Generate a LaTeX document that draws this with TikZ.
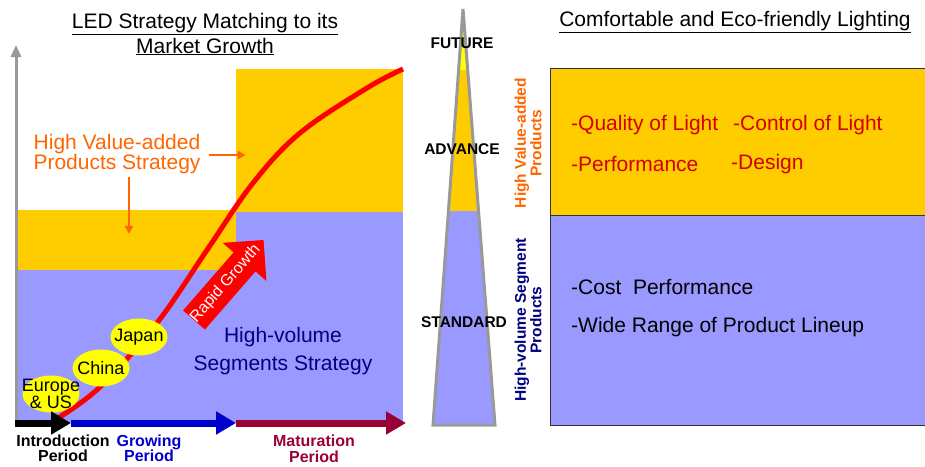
\documentclass[tikz,border=0pt]{standalone}
\usepackage{fontspec}
\setmainfont{Liberation Sans}
\usetikzlibrary{calc, positioning, shapes.geometric, arrows.meta}
\definecolor{gold}{HTML}{FFCC00}
\definecolor{lav}{HTML}{9999FF}
\definecolor{hvorange}{HTML}{FF6600}
\definecolor{hvnavy}{HTML}{000080}
\definecolor{lemon}{HTML}{FFFF00}
\definecolor{matred}{HTML}{990033}
\definecolor{growblue}{HTML}{0000CC}
\definecolor{featred}{HTML}{D40000}
\newcommand{\fs}[2]{\fontsize{#1}{#2}\selectfont}

\begin{document}
\begin{tikzpicture}[x=1pt,y=1pt,
                    txt/.style={inner sep=0pt,align=center},
                    feat/.style={anchor=west,inner sep=0pt,font=\fs{21}{24}},
                    period/.style={line width=7pt,-{Triangle[length=20pt,width=22pt]}},
                    blob/.style={ellipse,fill=lemon,inner sep=0pt,minimum width=57pt,minimum height=37pt},
                    level/.style={inner sep=0pt,font=\fs{15.5}{18}\bfseries},
                    side/.style={inner sep=0pt,align=center,rotate=90,font=\fs{15.5}{12}\bfseries},
                    pointer/.style={hvorange,line width=2pt,-{Triangle[length=8pt,width=8pt]}}]

  \useasboundingbox (0,0) rectangle (925,-466);

  \fill[gold] (18,-210) rectangle (236,-270);
  \fill[lav]  (18,-270) rectangle (236,-423);
  \fill[gold] (236,-69) rectangle (403,-212);
  \fill[lav]  (236,-212) rectangle (403,-423);

  \draw[gray!80,line width=3pt,-{Triangle[length=12pt,width=10pt]}] (16,-420) -- (16,-45);

  \draw[red,line width=5pt] plot[smooth,tension=0.6] coordinates
    {(58,-418) (100,-387) (157,-323) (207,-250) (253,-183) (300,-133) (367,-88) (403,-69)};

  \node[blob,label={[txt,font=\fs{18}{16.5}]center:Europe\\\& US}] (eu) at (51,-394) {};
  \node[blob] (china) at (101,-368) {};
  \node[txt,font=\fs{18}{20}] at (china) {China};
  \node[blob] (japan) at (139,-337) {};
  \node[txt,font=\fs{18}{20}] at (japan) {Japan};

  \begin{scope}[shift={(194,-320)},rotate=49]
    \fill[red] (0,14.5) -- (77,14.5) -- (77,29) -- (106,0) -- (77,-29) -- (77,-14.5) -- (0,-14.5) -- cycle;
    \node[txt,rotate=49,text=white,font=\fs{16}{18}] (rapid) at (48,0) {Rapid Growth};
  \end{scope}

  \coordinate (t0) at (15,-423);
  \coordinate (t1) at (71,-423);
  \coordinate (t2) at (236,-423);
  \coordinate (t3) at (406,-423);
  \draw[period,matred] (t2) -- (t3);
  \draw[period,growblue] (t1) -- (t2);
  \draw[period,black] (t0) -- (t1);

  \node[txt,font=\fs{16}{15}\bfseries] (intro) at (63,-448) {Introduction\\Period};
  \node[txt,font=\fs{16}{15}\bfseries,text=growblue] (grow) at (149,-448) {Growing\\Period};
  \node[txt,font=\fs{16}{15.5}\bfseries,text=matred] (mature) at (314,-449) {Maturation\\Period};

  \node[txt,font=\fs{21}{25}] (ltitle) at (205,-34) {\underline{LED Strategy Matching to its}\\\underline{Market Growth}};
  \node[txt,font=\fs{21}{20},text=hvorange] (hvtext) at (117,-154) {High Value-added\\Products Strategy};
  \node[txt,font=\fs{21}{28},text=hvnavy] (vtext) at (283,-351) {High-volume\\Segments Strategy};
  \draw[pointer] ($(hvtext.east)+(8,-1)$) -- ++(37,0);
  \draw[pointer] ($(hvtext.south)+(12,-3)$) -- ++(0,-57);

  \begin{scope}
    \clip (463,-9) -- (495,-425) -- (433,-425) -- cycle;
    \fill[lemon] (420,-30) rectangle (510,-70);
    \fill[gold] (420,-70) rectangle (510,-211);
    \fill[lav] (420,-211) rectangle (510,-430);
  \end{scope}
  \draw[gray!80,line width=3pt] (463,-9) -- (495,-425) -- (433,-425) -- cycle;

  \node[level] (future) at (462,-43) {FUTURE};
  \node[level] (advance) at (462,-149) {ADVANCE};
  \node[level] (standard) at (464,-322) {STANDARD};
  \node[side,text=hvorange] (hvside) at (528,-143) {High Value-added\\Products};
  \node[side,text=hvnavy] (vside) at (528,-320) {High-volume Segment\\Products};

  \node[txt,font=\fs{21}{25}] (rtitle) at (735,-22) {\underline{Comfortable and Eco-friendly Lighting}};
  \fill[gold] (550,-68) rectangle (925,-215);
  \fill[lav] (550,-215) rectangle (925,-425);
  \draw[black!80,line width=1pt] (925,-68) -| (550,-425) -- (925,-425);
  \draw[black!80,line width=1pt] (550,-215) -- (925,-215);

  \node[feat,text=featred] (quality) at (571,-125) {-Quality of Light};
  \node[feat,text=featred] (control) at (733,-125) {-Control of Light};
  \node[feat,text=featred] (perf) at (571,-164) {-Performance};
  \node[feat,text=featred] (design) at (731,-164) {-Design};
  \node[feat] (cost) at (571,-287) {-Cost~ Performance};
  \node[feat] (range) at (571,-327) {-Wide Range of Product Lineup};

\end{tikzpicture}
\end{document}
